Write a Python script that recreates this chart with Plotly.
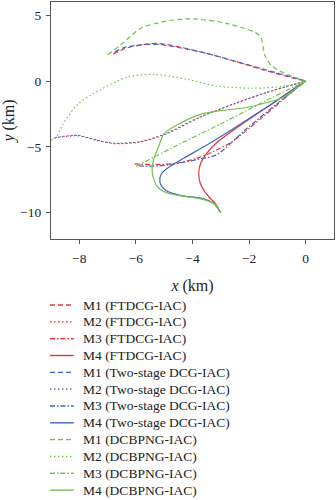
import plotly.graph_objects as go

# ---- data (km) ----
m1_ft_x = [-6.8, -6.4, -5.8, -5.2, -4.5, -3.5, -2.5, -1.5, -0.5, 0]
m1_ft_y = [2.05, 2.45, 2.75, 2.85, 2.6, 2.1, 1.5, 0.85, 0.25, 0]
m2_ft_x = [-8.85, -8.05, -7.34, -6.76, -5.83, -4.9, -3.73, -2.57, -1.4, 0]
m2_ft_y = [-4.3, -4.13, -4.5, -4.75, -4.63, -4.0, -2.75, -1.75, -0.88, 0]
m3_ft_x = [-6.05, -5.3, -4.6, -3.9, -3.3, -2.6, -1.5, -0.6, 0]
m3_ft_y = [-6.3, -6.35, -6.25, -5.9, -5.4, -4.6, -2.7, -1.05, 0]
m4_ft_x = [-3.0, -3.2, -3.5, -3.72, -3.78, -3.72, -3.5, -3.1, -2.6, -2.0, -1.2, -0.5, 0]
m4_ft_y = [-10, -9.3, -8.6, -7.8, -7.0, -6.3, -5.5, -4.6, -3.8, -2.9, -1.75, -0.72, 0]

m1_ts_x = [-6.75, -6.4, -5.8, -5.2, -4.5, -3.5, -2.5, -1.5, -0.5, 0]
m1_ts_y = [2.2, 2.55, 2.75, 2.78, 2.55, 2.1, 1.5, 0.9, 0.3, 0]
m2_ts_x = [-8.9, -8.1, -7.4, -6.8, -5.85, -4.95, -3.8, -2.6, -1.45, 0]
m2_ts_y = [-4.35, -4.15, -4.5, -4.72, -4.6, -4.0, -2.8, -1.8, -0.92, 0]
m3_ts_x = [-5.9, -5.2, -4.5, -3.8, -3.15, -2.1, -1.0, 0]
m3_ts_y = [-6.45, -6.45, -6.25, -5.95, -5.6, -3.65, -1.7, 0]
m4_ts_x = [-3.0, -3.25, -3.7, -4.4, -4.95, -5.15, -5.1, -4.8, -4.3, -3.6, -2.8, -2.0, -1.2, -0.5, 0]
m4_ts_y = [-10, -9.3, -8.9, -8.7, -8.3, -7.7, -7.05, -6.5, -5.85, -5.0, -3.95, -2.85, -1.75, -0.72, 0]

m1_dc_x = [-7.0, -6.53, -5.83, -4.9, -4.08, -2.8, -1.63, -1.45, -1.2, -0.6, 0]
m1_dc_y = [2.0, 2.75, 4.0, 4.55, 4.72, 4.38, 3.45, 2.0, 1.15, 0.45, 0]
m2_dc_x = [-9.0, -8.86, -8.57, -8.05, -7.23, -6.3, -5.36, -4.2, -3.15, -1.87, -0.7, 0]
m2_dc_y = [-4.5, -4.38, -3.25, -1.75, -0.63, 0.3, 0.5, 0.13, -0.38, -0.55, -0.38, 0]
m3_dc_x = [-6.0, -4.7, -3.0, -1.5, 0]
m3_dc_y = [-6.5, -5.05, -3.25, -1.6, 0]
m4_dc_x = [-3.0, -3.25, -3.7, -4.3, -4.9, -5.25, -5.42, -5.38, -5.2, -5.0, -4.43, -3.75, -3.0, -2.2, -1.4, -0.8, -0.3, 0]
m4_dc_y = [-10, -9.3, -8.95, -8.75, -8.5, -8.0, -7.0, -6.0, -5.0, -4.0, -3.2, -2.55, -2.25, -2.05, -1.65, -1.25, -0.5, 0]

names = ["M1 (FTDCG-IAC)", "M2 (FTDCG-IAC)", "M3 (FTDCG-IAC)", "M4 (FTDCG-IAC)",
         "M1 (Two-stage DCG-IAC)", "M2 (Two-stage DCG-IAC)", "M3 (Two-stage DCG-IAC)", "M4 (Two-stage DCG-IAC)",
         "M1 (DCBPNG-IAC)", "M2 (DCBPNG-IAC)", "M3 (DCBPNG-IAC)", "M4 (DCBPNG-IAC)"]
xs = [m1_ft_x, m2_ft_x, m3_ft_x, m4_ft_x, m1_ts_x, m2_ts_x, m3_ts_x, m4_ts_x, m1_dc_x, m2_dc_x, m3_dc_x, m4_dc_x]
ys = [m1_ft_y, m2_ft_y, m3_ft_y, m4_ft_y, m1_ts_y, m2_ts_y, m3_ts_y, m4_ts_y, m1_dc_y, m2_dc_y, m3_dc_y, m4_dc_y]

RED, BLUE, GREEN = "#e8343a", "#4465c2", "#72c24e"
colors = [RED] * 4 + [BLUE] * 4 + [GREEN] * 4
dashes = ["5px,3px", "1.5px,2.5px", "5px,2px,1.5px,2px", "solid"] * 3

FONT = "Liberation Serif"
W, H = 336, 500
ML, MR, MT, MB = 49, 1, 1, 261
PW, PH = W - ML - MR, H - MT - MB

fig = go.Figure()
for n, x, y, c, d in zip(names, xs, ys, colors, dashes):
    fig.add_trace(go.Scatter(x=x, y=y, name=n, mode="lines", showlegend=False,
                             line=dict(color=c, width=1.2, dash=d, shape="spline", smoothing=0.8)))

# compact legend below the plot (paper coordinates computed from pixel layout)
def px_x(p):
    return (p - ML) / PW

def px_y(p):
    return (H - MB - p) / PH

LEG_TOP, LEG_STEP = 305.3, 16.9
shapes, annotations = [], []
for i, (n, c, d) in enumerate(zip(names, colors, dashes)):
    yc = LEG_TOP + LEG_STEP * i
    shapes.append(dict(type="line", xref="paper", yref="paper",
                       x0=px_x(48), x1=px_x(72), y0=px_y(yc), y1=px_y(yc),
                       line=dict(color=c, width=1.4, dash=d)))
    annotations.append(dict(xref="paper", yref="paper", x=px_x(79), y=px_y(yc),
                            xanchor="left", yanchor="middle", showarrow=False, text=n,
                            font=dict(family=FONT, size=13.5, color="#222")))

fig.update_layout(
    width=W, height=H,
    margin=dict(l=ML, r=MR, t=MT, b=MB),
    paper_bgcolor="white", plot_bgcolor="white",
    font=dict(family=FONT, size=13.5, color="#222"),
    showlegend=False,
    shapes=shapes, annotations=annotations,
)
fig.update_xaxes(range=[-9, 1], tickvals=[-8, -6, -4, -2, 0], showgrid=False, zeroline=False,
                 showline=True, linecolor="#555", linewidth=1.3, mirror=True,
                 ticks="outside", ticklen=4, tickcolor="#555", ticklabelstandoff=3,
                 title=dict(text="<i>x</i> (km)", standoff=14))
fig.update_yaxes(range=[-12, 6], tickvals=[-10, -5, 0, 5], showgrid=False, zeroline=False,
                 showline=True, linecolor="#555", linewidth=1.3, mirror=True,
                 ticks="outside", ticklen=4, tickcolor="#555", ticklabelstandoff=2,
                 title=dict(text="<i>y</i> (km)", standoff=8))

fig.write_html("out.html")
